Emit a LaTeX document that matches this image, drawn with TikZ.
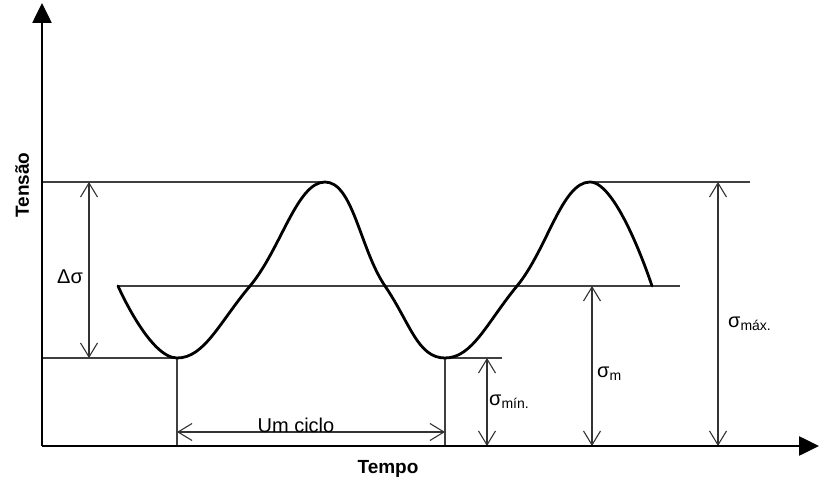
\documentclass[tikz,border=0pt]{standalone}
\usepackage{fontspec}
\setmainfont{Liberation Sans}
\usetikzlibrary{arrows.meta}

\begin{document}
\begin{tikzpicture}[x=1pt, y=-1pt,
    axis/.style={line width=2.6pt, -{Triangle[length=20pt,width=19pt]}},
    guide/.style={line width=1.2pt, black!75},
    dim/.style={line width=1.1pt, black!80,
      {Straight Barb[length=14pt,width=17pt]}-{Straight Barb[length=14pt,width=17pt]}},
    wave/.style={line width=2.8pt, line join=round, line cap=round},
    lbl/.style={font=\fontsize{20}{23}\selectfont, inner sep=0pt},
    axlbl/.style={font=\fontsize{19}{22}\selectfont\bfseries, inner sep=0pt}]

        \useasboundingbox (0,0) rectangle (819,481);

        % axes
        \coordinate (O) at (42,446);
        \coordinate (ytop) at (42,3);
        \coordinate (xend) at (819,446);

        % extremes of the wave
        \coordinate (t1) at (177,358);
        \coordinate (p1) at (325,182);
        \coordinate (t2) at (445,358);
        \coordinate (p2) at (590,182);
        \coordinate (ms) at (118,286);
        \coordinate (me) at (680,286);

        % guide lines
        \draw[guide] (O |- p1) -- (p1);
        \draw[guide] (p2) -- (750,182);
        \draw[guide] (ms) -- (me);
        \draw[guide] (O |- t1) -- (t1);
        \draw[guide] (t2) -- (502,358);
        \draw[guide] (t1) -- (t1 |- O);
        \draw[guide] (t2) -- (t2 |- O);

        % the wave
        \draw[wave] plot[smooth, tension=0.75] coordinates
          {(118,286) (177,358) (250,286) (325,182) (385,286)
           (445,358) (517,286) (590,182) (652,286)};

        % dimensions
        \draw[dim] (89,182) -- (89,358);
        \draw[dim] (177,432) -- (445,432);
        \draw[dim] (487,358) -- (487,446);
        \draw[dim] (592,286) -- (592,446);
        \draw[dim] (718,182) -- (718,446);

        \draw[axis] (O) -- (ytop);
        \draw[axis] (O) -- (xend);

        % labels
        \node[axlbl, rotate=90] (tensao) at (22,185) {Tensão};
        \node[axlbl] (tempo) at (388,469) {Tempo};
        \node[lbl] (delta) at (70,277) {Δσ};
        \node[lbl, anchor=base] (ciclo) at (296,432) {Um ciclo};
        \node[lbl, anchor=base west] (smin) at (489,405) {σ\textsubscript{mín.}};
        \node[lbl, anchor=base west] (smed) at (597,377) {σ\textsubscript{m}};
        \node[lbl, anchor=base west] (smax) at (728,327) {σ\textsubscript{máx.}};

      \end{tikzpicture}
\end{document}
